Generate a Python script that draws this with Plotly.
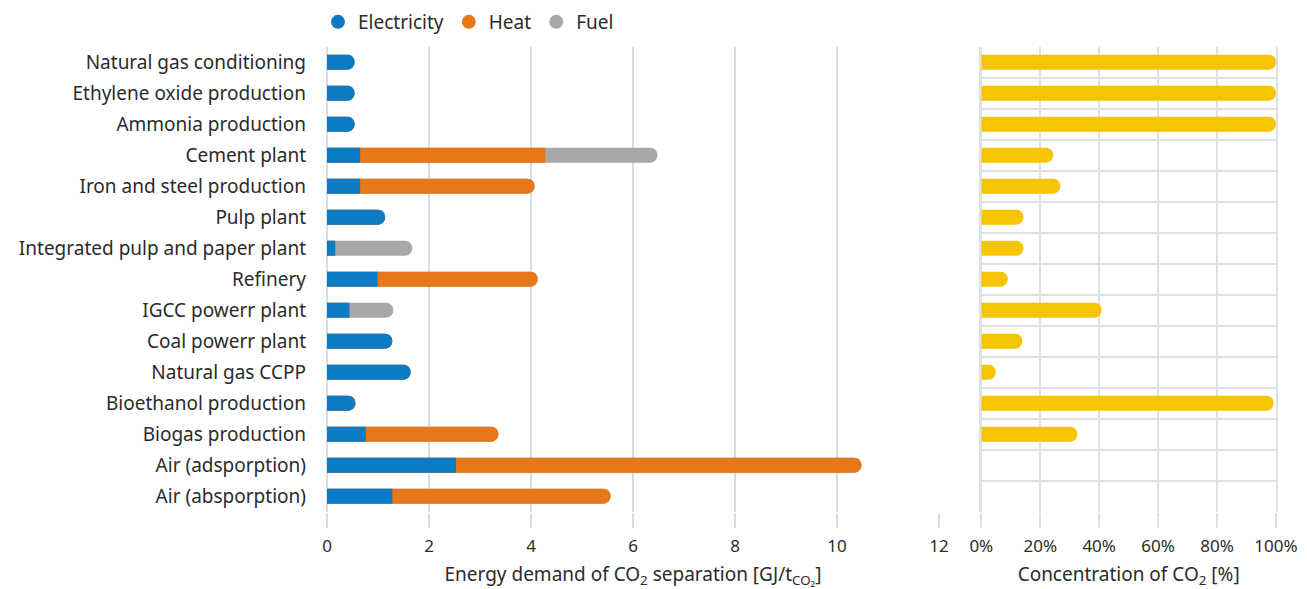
import plotly.graph_objects as go

categories = [
    "Natural gas conditioning", "Ethylene oxide production", "Ammonia production",
    "Cement plant", "Iron and steel production", "Pulp plant",
    "Integrated pulp and paper plant", "Refinery", "IGCC powerr plant",
    "Coal powerr plant", "Natural gas CCPP", "Bioethanol production",
    "Biogas production", "Air (adsporption)", "Air (absporption)",
]
electricity = [0.50, 0.50, 0.50, 0.65, 0.65, 1.14, 0.16, 0.99, 0.44, 1.28, 1.64, 0.49, 0.76, 2.53, 1.28]
heat        = [0.04, 0.04, 0.04, 3.63, 3.42, 0.00, 0.00, 3.14, 0.00, 0.00, 0.00, 0.07, 2.60, 7.95, 4.28]
fuel        = [0.00, 0.00, 0.00, 2.20, 0.00, 0.00, 1.51, 0.00, 0.86, 0.00, 0.00, 0.00, 0.00, 0.00, 0.00]
co2_concentration = [100, 100, 100, 24.4, 26.8, 14.3, 14.3, 9.0, 40.8, 13.9, 4.9, 99.2, 32.6, None, None]

energy_ticks = [0, 2, 4, 6, 8, 10, 12]
conc_ticks = [0, 20, 40, 60, 80, 100]
conc_labels = [f"{v}%" for v in conc_ticks]

BLUE = "#0a7bc4"
ORANGE = "#e6781a"
GRAY = "#a8a8a8"
YELLOW = "#f6c400"
GRID_L = "#d2e0e7"
GRID_R = "#dbe1e4"
TEXT = "#2b2b2b"
FONT = "Noto Sans"

elec_heat = [e + h for e, h in zip(electricity, heat)]
total = [e + h + f for e, h, f in zip(electricity, heat, fuel)]

fig = go.Figure()
# overlayed cumulative bars so that each segment has a rounded end
for vals, col in [(total, GRAY), (elec_heat, ORANGE), (electricity, BLUE)]:
    fig.add_trace(go.Bar(
        y=categories, x=vals, orientation="h",
        marker=dict(color=col, cornerradius="50%", line=dict(width=0)),
        xaxis="x", yaxis="y", showlegend=False, hoverinfo="skip",
    ))

fig.add_trace(go.Bar(
    y=categories, x=co2_concentration, orientation="h",
    marker=dict(color=YELLOW, cornerradius="50%", line=dict(width=0)),
    xaxis="x2", yaxis="y2", showlegend=False, cliponaxis=False,
))

# legend entries (circle symbols)
for name, col in [("Electricity", BLUE), ("Heat", ORANGE), ("Fuel", GRAY)]:
    fig.add_trace(go.Scatter(
        x=[None], y=[None], mode="markers", name=name,
        marker=dict(color=col, size=14, symbol="circle"), xaxis="x", yaxis="y",
    ))

W, H = 1307, 589
y_dom = [1 - 511.7 / H, 1 - 46.7 / H]

fig.update_layout(
    width=W, height=H,
    margin=dict(l=0, r=0, t=0, b=0, autoexpand=False),
    paper_bgcolor="white", plot_bgcolor="white",
    font=dict(family=FONT, color=TEXT, size=17),
    barmode="overlay", bargap=0.52,
    legend=dict(orientation="h", x=318 / W, xanchor="left", y=1 - 3 / H, yanchor="top",
                font=dict(size=19, color=TEXT), itemwidth=30, tracegroupgap=0),
    xaxis=dict(
        domain=[327 / W, 939 / W], range=[0, 12], tickvals=energy_ticks,
        showgrid=True, gridcolor=GRID_L, gridwidth=2,
        zeroline=True, zerolinecolor=GRID_L, zerolinewidth=2,
        ticks="outside", ticklen=15, tickwidth=2, tickcolor=GRID_L, ticklabelstandoff=4,
        tickfont=dict(size=17, color=TEXT), anchor="y", automargin=False,
        title=dict(text="Energy demand of CO<sub>2</sub> separation [GJ/t<sub>CO₂</sub>]",
                   font=dict(size=19, color=TEXT), standoff=12),
        fixedrange=True,
    ),
    yaxis=dict(
        domain=y_dom, type="category", categoryorder="array", categoryarray=categories,
        autorange="reversed", showgrid=False, zeroline=False, automargin=False,
        tickfont=dict(size=19, color=TEXT), ticklabelstandoff=20, anchor="x",
    ),
    xaxis2=dict(
        domain=[981.3 / W, 1276 / W], range=[0, 100], tickvals=conc_ticks, ticktext=conc_labels,
        showgrid=True, gridcolor=GRID_R, gridwidth=2, zeroline=True, zerolinecolor=GRID_R, zerolinewidth=2,
        ticks="outside", ticklen=15, tickwidth=2, tickcolor=GRID_R, ticklabelstandoff=4,
        tickfont=dict(size=17, color=TEXT), anchor="y2", automargin=False,
        title=dict(text="Concentration of CO<sub>2</sub> [%]", font=dict(size=19, color=TEXT), standoff=12),
    ),
    yaxis2=dict(
        domain=y_dom, type="category", categoryorder="array", categoryarray=categories,
        autorange="reversed", showticklabels=False, tickson="boundaries", automargin=False,
        showgrid=True, gridcolor=GRID_R, gridwidth=2, ticks="", anchor="x2",
        showline=True, mirror=True, linecolor=GRID_R, linewidth=2,
    ),
)

fig.write_html("out.html", config={"displayModeBar": False},
               post_script="document.body.style.margin='0';")
